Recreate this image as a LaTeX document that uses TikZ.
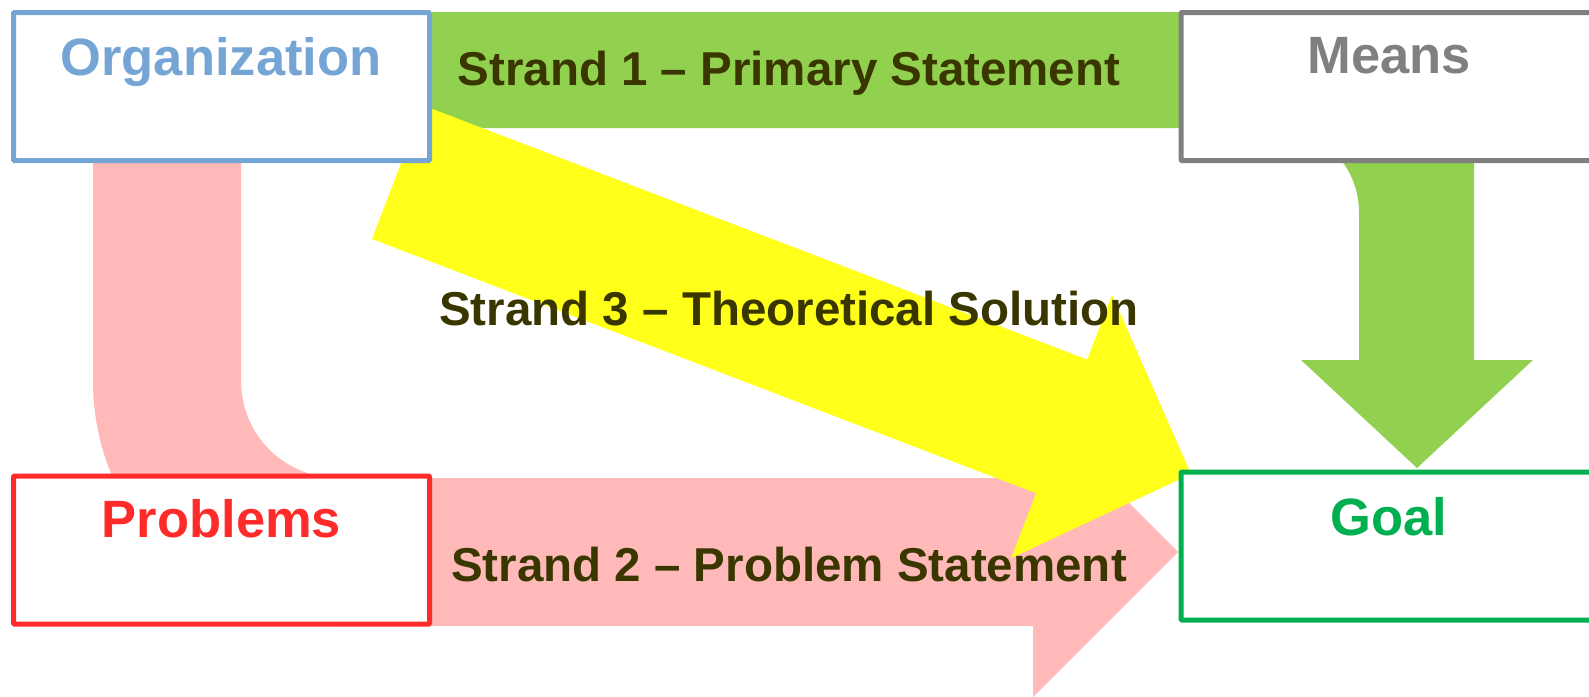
\documentclass[tikz,border=0pt]{standalone}
\usepackage{fontspec}
\setmainfont{Liberation Sans}
\definecolor{stgreen}{HTML}{92D050}
\definecolor{stpink}{HTML}{FFB9B9}
\definecolor{styellow}{HTML}{FFFF1A}
\definecolor{orgblue}{HTML}{75A5D5}
\definecolor{meansgray}{HTML}{808080}
\definecolor{probred}{HTML}{FF2A2A}
\definecolor{goalgreen}{HTML}{00B050}
\definecolor{strandtext}{HTML}{3A3600}
\tikzset{
  box/.style={draw, line width=5pt, fill=white, rounded corners=1pt, minimum width=416pt, minimum height=148pt, inner sep=0pt},
  boxtitle/.style={anchor=base, inner sep=0pt, font=\fontsize{52.5}{60}\selectfont\bfseries},
  strandlabel/.style={anchor=base, inner sep=0pt, text=strandtext, font=\fontsize{47.5}{54}\selectfont\bfseries},
  band/.style={draw=none}
}
\begin{document}
\begin{tikzpicture}[x=1pt,y=1pt]
\useasboundingbox (0,0) rectangle (1589,-696);
\clip (0,0) rectangle (1589,-696);
% Strand 1 (green bent arrow)
\fill[band, stgreen] (432,-12) -- (1334,-12) arc[start angle=90, end angle=0, radius=140]
  -- (1474,-360) -- (1533,-360) -- (1417,-468) -- (1301,-360) -- (1359,-360)
  -- (1359,-212) arc[start angle=0, end angle=90, radius=84] -- (432,-128) -- cycle;
% Strand 2 (pink bent arrow)
\fill[band, stpink] (93,-20) -- (93,-381) arc[start angle=180, end angle=270, radius=245]
  -- (1033,-626) -- (1033,-697) -- (1178,-552) -- (1033,-407) -- (1033,-478)
  -- (338,-478) arc[start angle=270, end angle=180, radius=97] -- (241,-20) -- cycle;
% Strand 3 (yellow straight arrow)
\fill[band, styellow] (423.2,-105.4) -- (1087.2,-359.6) -- (1112,-294.7) -- (1191,-474)
  -- (1011.2,-558.1) -- (1036,-493.2) -- (372,-239) -- cycle;
% Boxes
\node[box, draw=orgblue] (org) at (221.5,-86.5) {};
\node[box, draw=meansgray] (means) at (1389,-86.5) {};
\node[box, draw=probred] (prob) at (221.5,-550) {};
\node[box, draw=goalgreen] (goal) at (1389,-546) {};
% Box titles
\node[boxtitle, text=orgblue] (orgt) at (221,-75) {Organization};
\node[boxtitle, text=meansgray] (meanst) at (1389,-73) {Means};
\node[boxtitle, text=probred] (probt) at (221.5,-537) {Problems};
\node[boxtitle, text=goalgreen] (goalt) at (1389,-535) {Goal};
% Strand labels
\node[strandlabel] (s1) at (789,-85) {Strand 1 – Primary Statement};
\node[strandlabel] (s3) at (789,-325) {Strand 3 – Theoretical Solution};
\node[strandlabel] (s2) at (789,-581) {Strand 2 – Problem Statement};
\end{tikzpicture}
\end{document}
